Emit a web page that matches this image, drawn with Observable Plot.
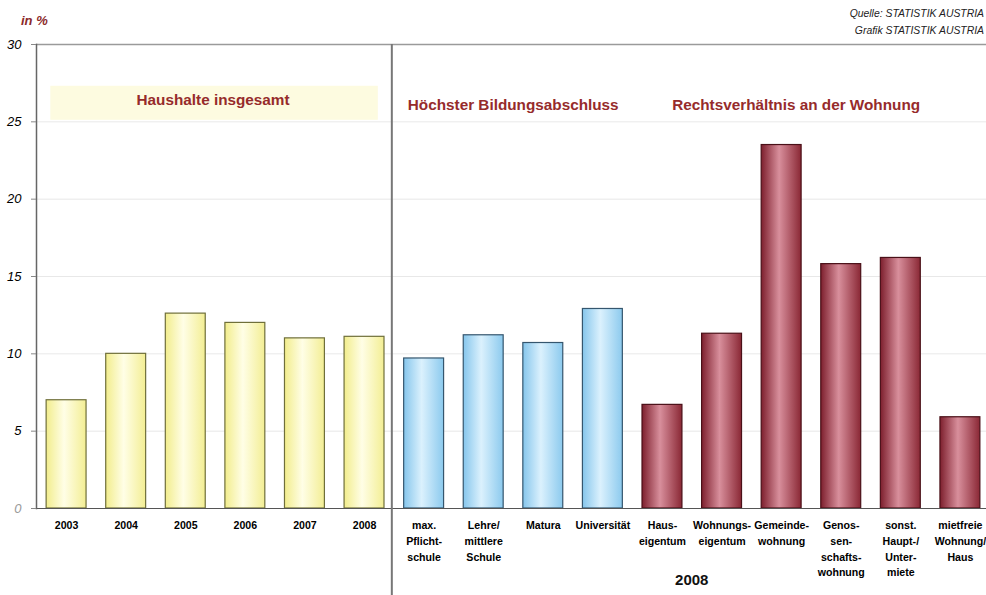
<!DOCTYPE html>
<html>
<head>
<meta charset="utf-8">
<script src="https://cdn.jsdelivr.net/npm/d3@7"></script>
<script src="https://cdn.jsdelivr.net/npm/@observablehq/plot@0.6"></script>
<style>
  html, body { margin: 0; padding: 0; background: #fff; overflow: hidden; }
  #wrap { position: relative; width: 986px; height: 595px; overflow: hidden; font-family: "Liberation Sans", Arial, sans-serif; }
  #chart svg { display: block; }
  .src { position: absolute; right: 2px; font-size: 10.4px; font-style: italic; color: #222; white-space: nowrap; text-align: right; }
  .unit { position: absolute; left: 21px; top: 13px; font-size: 13px; font-weight: bold; font-style: italic; color: #8b2a2a; }
</style>
</head>
<body>
<div id="wrap">
  <div id="chart"></div>
  <div class="unit">in %</div>
  <div class="src" style="top:8px">Quelle: STATISTIK AUSTRIA</div>
  <div class="src" style="top:25px">Grafik STATISTIK AUSTRIA</div>
</div>
<script>
// ---- data ----
const categories = ["2003","2004","2005","2006","2007","2008",
  "max. Pflichtschule","Lehre/mittlere Schule","Matura","Universität",
  "Hauseigentum","Wohnungseigentum","Gemeindewohnung","Genossenschaftswohnung",
  "sonst. Haupt-/Untermiete","mietfreie Wohnung/Haus"];
const tickLabels = ["2003","2004","2005","2006","2007","2008",
  "max.\nPflicht-\nschule","Lehre/\nmittlere\nSchule","Matura","Universität",
  "Haus-\neigentum","Wohnungs-\neigentum","Gemeinde-\nwohnung","Genos-\nsen-\nschafts-\nwohnung",
  "sonst.\nHaupt-/\nUnter-\nmiete","mietfreie\nWohnung/\nHaus"];
const values = [7.0, 10.0, 12.6, 12.0, 11.0, 11.1,
  9.7, 11.2, 10.7, 12.9,
  6.7, 11.3, 23.5, 15.8, 16.2, 5.9];
const groups = ["haushalte","haushalte","haushalte","haushalte","haushalte","haushalte",
  "bildung","bildung","bildung","bildung",
  "wohnung","wohnung","wohnung","wohnung","wohnung","wohnung"];
const groupTitles = ["Haushalte insgesamt", "Höchster Bildungsabschluss", "Rechtsverhältnis an der Wohnung"];
const groupKeys = ["haushalte", "bildung", "wohnung"];
const yTicks = [0, 5, 10, 15, 20, 25, 30];
const bottomLabel = "2008";

const data = categories.map((c, i) => ({cat: c, value: values[i], group: groups[i]}));
const labelMap = new Map(categories.map((c, i) => [c, tickLabels[i]]));

const styles = {
  haushalte: {fill: "url(#g-yellow)", stroke: "#6f6f3a"},
  bildung: {fill: "url(#g-blue)", stroke: "#35566e"},
  wohnung: {fill: "url(#g-red)", stroke: "#4a1018"}
};

const chart = Plot.plot({
  width: 986,
  height: 595,
  marginTop: 44,
  marginBottom: 87,
  marginLeft: 36,
  marginRight: 0,
  style: {fontFamily: "Liberation Sans, Arial, sans-serif", background: "transparent"},
  x: {domain: categories, range: [36, 990], paddingInner: 0.33, paddingOuter: 0.17, round: false, label: null},
  y: {domain: [0, 30], label: null},
  marks: [
    Plot.gridY(yTicks, {stroke: "#d8d8d8", strokeOpacity: 0.6}),
    Plot.ruleY([30], {stroke: "#9a9a9a", strokeWidth: 1.5}),
    ...groupKeys.map(g => Plot.barY(data.filter(d => d.group === g), {
      x: "cat", y: "value", fill: styles[g].fill, stroke: styles[g].stroke, strokeWidth: 1.2
    })),
    Plot.ruleY([0], {stroke: "#555", strokeWidth: 1.2}),
    Plot.frame({anchor: "left", stroke: "#666", strokeWidth: 1.5}),
    Plot.axisY({ticks: yTicks, tickSize: 5, tickPadding: 10, fontSize: 13, fontStyle: "italic", label: null, stroke: "#888"}),
    Plot.axisX({tickSize: 0, tickPadding: 9, fontSize: 10.6, fontWeight: "bold", lineHeight: 1.5,
      tickFormat: d => labelMap.get(d), label: null})
  ]
});

document.getElementById("chart").appendChild(chart);

const svg = d3.select(chart);
// gradients
const defs = svg.insert("defs", ":first-child");
function grad(id, edgeL, mid, edgeR) {
  const g = defs.append("linearGradient").attr("id", id).attr("x1", "0%").attr("x2", "100%").attr("y1", "0%").attr("y2", "0%");
  g.append("stop").attr("offset", "0%").attr("stop-color", edgeL);
  g.append("stop").attr("offset", "45%").attr("stop-color", mid);
  g.append("stop").attr("offset", "100%").attr("stop-color", edgeR);
}
grad("g-yellow", "#f2ed8c", "#fffee6", "#f3ee94");
grad("g-blue", "#86c6ec", "#dbf1fd", "#8ccaee");
grad("g-red", "#7d1f2d", "#d88f9c", "#8a2835");

const xs = chart.scale("x");
const ys = chart.scale("y");
const bw = xs.bandwidth;
const step = xs.step;

// group extents (band edges incl. half gaps)
const groupExtent = g => {
  const cs = categories.filter((c, i) => groups[i] === g);
  return [xs.apply(cs[0]) - (step - bw) / 2, xs.apply(cs[cs.length - 1]) + bw + (step - bw) / 2];
};

const overlay = svg.append("g");
// yellow band behind first header
const [h0, h1] = groupExtent("haushalte");
overlay.append("rect")
  .attr("x", h0 + 14).attr("width", h1 - h0 - 30)
  .attr("y", ys.apply(27.3)).attr("height", ys.apply(25.1) - ys.apply(27.3))
  .attr("fill", "#fdfbe0");

// divider between group 1 and the rest
const divX = h1 - 2;
overlay.append("line")
  .attr("x1", divX).attr("x2", divX)
  .attr("y1", ys.apply(30)).attr("y2", 595)
  .attr("stroke", "#777").attr("stroke-width", 2);

// group headers
const headerY = [26.3, 26.0, 26.0];
const headerOffset = {haushalte: 0, bildung: 14, wohnung: 40};
groupKeys.forEach((g, i) => {
  const [a, b] = groupExtent(g);
  overlay.append("text")
    .attr("x", g === "haushalte" ? (a + b) / 2 - 2 : a + headerOffset[g])
    .attr("y", ys.apply(headerY[i]))
    .attr("text-anchor", g === "haushalte" ? "middle" : "start")
    .attr("dominant-baseline", "middle")
    .attr("font-size", 15.3).attr("font-weight", "bold").attr("fill", "#962b2b")
    .text(groupTitles[i]);
});

// bottom "2008" label centred under the 2008 breakdown categories
const b0 = groupExtent("bildung")[0], b1 = groupExtent("wohnung")[1];
overlay.append("text")
  .attr("x", (b0 + b1) / 2).attr("y", 581)
  .attr("text-anchor", "middle").attr("dominant-baseline", "middle")
  .attr("font-size", 15).attr("font-weight", "bold").attr("fill", "#111")
  .text(bottomLabel);

// zero tick label lighter
svg.selectAll("[aria-label='y-axis tick label'] text").filter(function() { return this.textContent === "0"; }).attr("fill", "#999");
</script>
</body>
</html>
